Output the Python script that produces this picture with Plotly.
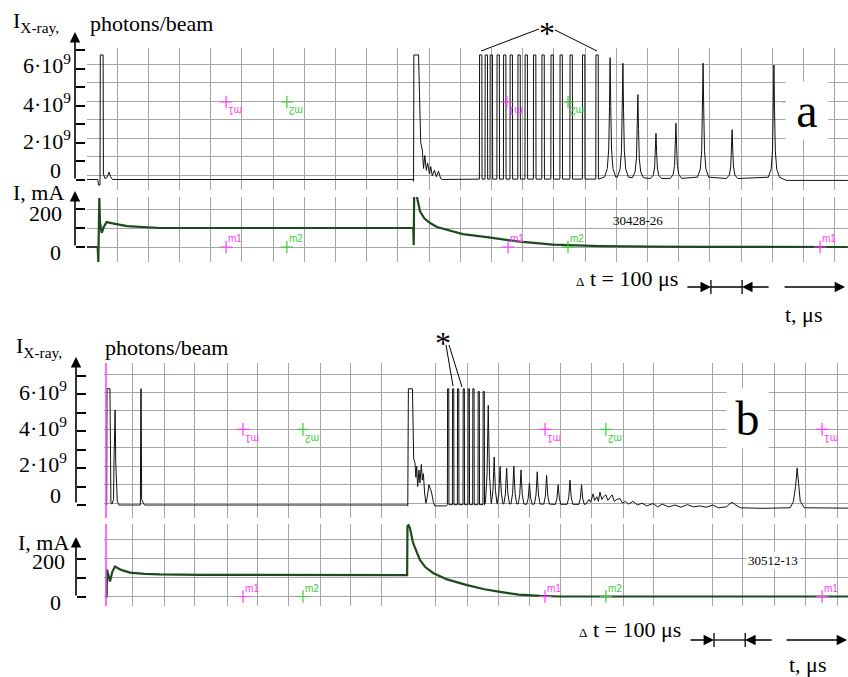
import plotly.graph_objects as go

W, H = 848, 677
def fx(x): return x / W
def fy(y): return 1 - y / H

SERIF = "Liberation Serif"
SANS = "Liberation Sans"
GRID = "#a6a6a6"
TRACE = "#111111"
CUR = "#1f4a1f"
MAG = "#ff3cff"
GRN = "#3ccc3c"

# ---------------- DATA ----------------
# time in microseconds, X-ray in 1e9 photons/beam, beam current in mA
# ---- panel (a), shot 30428-26
a_xray_start_t = [-42, -7, -5, 0, 1, 10, 11, 16, 22, 29, 34, 40]
a_xray_start_v = [0, 0, -0.3, -0.3, 6.75, 6.75, 0.3, 0.05, 0.1, 0.4, 0.15, 0]
a_xray_inj_t = [1004, 1005, 1006, 1021, 1024, 1028, 1033, 1037, 1041, 1046, 1050,
                1056, 1060, 1065, 1072, 1078, 1085, 1092, 1098]
a_xray_inj_v = [0, -0.1, 6.75, 6.75, 4.6, 2.0, 1.6, 0.6, 1.3, 0.5, 0.9,
                0.3, 0.7, 0.2, 0.5, 0.15, 0.45, 0.05, 0]
a_sat_start = [1216, 1234, 1250, 1272, 1293, 1314, 1339, 1362, 1389, 1416, 1445,
               1474, 1506, 1546, 1589]
a_sat_top = [6.75, 6.75, 6.75, 6.75, 6.75, 6.75, 6.75, 6.75, 6.75, 6.75, 6.75,
             6.75, 6.75, 6.75, 6.75]
a_peak_t = [1635, 1676, 1724, 1782, 1846, 1933, 2026, 2160]
a_peak_v = [6.6, 6.3, 4.6, 2.5, 3.05, 6.3, 2.7, 6.2]
a_xray_end_t = [2200, 2397]
a_xray_end_v = [-0.05, -0.05]

a_cur_t = [-42, -7.4, -5.4, -3.8, -2.2, 0, 5.4, 12, 21, 40, 87, 192, 1004, 1005.5,
           1007, 1013, 1026, 1040, 1058, 1080, 1112, 1163, 1240, 1292, 1346, 1452,
           1603, 1763, 1923, 2397]
a_cur_v = [0, 0, -80, 258, 258, 131, 74, 105, 131, 124, 110, 100, 100, 10,
           290, 285, 186, 150, 126, 105, 90, 68, 52, 40, 28, 12,
           5, 2, 0.5, 0]

a_cursor_t = [404, 599, 1304, 1500, 2208]
a_cursor_x = [4.2, 4.2, 4.2, 4.2, 4.2]
a_cursor_name = ["m1", "m2", "m1", "m2", "m1"]
a_cur_cursor_t = [404, 599, 1308, 1500, 2308]
a_cur_cursor_name = ["m1", "m2", "m1", "m2", "m1"]

# ---- panel (b), shot 30512-13
b_xray_start_t = [-3, -1, 0, 9.5, 11.5, 12.5, 16, 21, 22.5, 25, 26, 28, 31, 33, 38,
                  107, 108.5, 109.5, 111, 116, 120]
b_xray_start_v = [0, 0, 6.3, 6.3, 2.4, 0.1, 0.05, 0.3, 2.5, 5.15, 5.15, 2.3, 0.4, 0.2, 0,
                  0, 6.3, 6.3, 0.3, 0.15, 0]
b_xray_inj_t = [962, 964, 966, 979, 983, 987, 990, 992.6, 995.7, 1000, 1003, 1007.5,
                1010.7, 1014, 1018, 1022, 1026.7, 1032, 1036, 1040.6, 1046, 1051, 1088]
b_xray_inj_v = [0, -0.05, 6.3, 6.3, 2.5, 2.3, 1.5, 2.1, 1.0, 1.9, 1.2, 2.2,
                1.35, 1.7, 0.65, 0.1, 0.45, 1.1, 0.9, 0.65, 0.15, -0.05, -0.05]
b_sat_start = [1091, 1107, 1123, 1141, 1157, 1172, 1189, 1205]
b_sat_top = [6.3, 6.3, 6.3, 6.3, 6.3, 6.3, 6.15, 6.15]
b_peak_t = [1222, 1241, 1260, 1281, 1304, 1327, 1354, 1379, 1409, 1446, 1484, 1521]
b_peak_v = [5.4, 2.6, 2.1, 2.0, 2.1, 1.9, 1.2, 1.8, 1.6, 1.1, 1.35, 1.1]
b_xray_tail_t = [1535, 1545, 1550, 1558, 1563, 1570, 1575, 1580, 1586, 1592, 1599, 1605,
                 1612, 1619, 1626, 1634, 1644, 1652, 1662, 1672, 1686, 1700, 1715, 1730,
                 1750, 1765, 1780, 1800, 1820, 1840, 1860, 1880, 1900, 1920, 1942, 1960,
                 1985, 2003, 2015, 2030, 2100, 2190, 2200, 2207, 2212, 2217, 2222, 2235,
                 2375]
b_xray_tail_v = [0.05, 0.3, 0.15, 0.6, 0.25, 0.45, 0.2, 0.7, 0.3, 0.45, 0.55, 0.25,
                 0.4, 0.55, 0.2, 0.3, 0.35, 0.1, 0.2, 0.05, 0.2, 0.0, 0.1, -0.05,
                 0.08, -0.1, 0.05, -0.1, 0.0, -0.12, 0.02, -0.1, -0.05, -0.12, 0.0, -0.15,
                 -0.1, 0.15, 0.0, -0.15, -0.18, -0.15, 0.2, 1.0, 2.0, 0.9, 0.2, -0.15,
                 -0.17]

b_cur_t = [-3, -1, 0, 3, 9.6, 17, 25.6, 45, 74, 120, 170, 300, 962, 963, 966.5, 971,
           981, 1003, 1020, 1045, 1090, 1154, 1210, 1260, 1320, 1388, 1452, 2375]
b_cur_v = [0, 0, 142, 120, 79, 130, 158, 140, 126, 119, 116, 114, 113, 370, 376, 360,
           282, 192, 155, 124, 90, 60, 38, 24, 10, 3, 0, 0]

b_cursor_t = [436, 628, 1404, 1599, 2292]
b_cursor_x = [4.1, 4.1, 4.1, 4.1, 4.1]
b_cursor_name = ["m1", "m2", "m1", "m2", "m1"]

# grid positions (time, µs)
a_grid_t0 = 54.5
b_grid_t = [83, 183, 282, 385, 481, 583, 683, 779, 881, 1054, 1157, 1256, 1353, 1455,
            1554, 1654, 1753, 1942, 2038, 2141, 2240, 2340]

xray_ticks = [0, 1, 2, 3, 4, 5, 6, 7]
cur_ticks = [0, 100, 200]

# peak drawing profiles (style)
PROF_A_DT = [-18, -9, -4.5, -2, 0, 2, 4.5, 9, 18]
PROF_A_F = [0.02, 0.09, 0.25, 0.6, 1, 0.6, 0.25, 0.09, 0.02]
PROF_B_DT = [-9, -4, -1.5, 0, 1.5, 4, 9]
PROF_B_F = [0.03, 0.3, 0.7, 1, 0.7, 0.3, 0.03]


def sat_pulses(starts, tops, width):
    t, v = [], []
    for s, h in zip(starts, tops):
        t += [s, s + 0.6, s + width - 0.6, s + width]
        v += [0.02, h, h, 0.02]
    return t, v


def peaks(cs, hs, dts, fs):
    t, v = [], []
    for c, h in zip(cs, hs):
        for d, f in zip(dts, fs):
            t.append(c + d)
            v.append(h * f)
    return t, v


st, sv = sat_pulses(a_sat_start, a_sat_top, 8.5)
pt, pv = peaks(a_peak_t, a_peak_v, PROF_A_DT, PROF_A_F)
a_x_t = a_xray_start_t + a_xray_inj_t + st + pt + a_xray_end_t
a_x_v = a_xray_start_v + a_xray_inj_v + sv + pv + a_xray_end_v

st, sv = sat_pulses(b_sat_start, b_sat_top, 5)
pt, pv = peaks(b_peak_t, b_peak_v, PROF_B_DT, PROF_B_F)
b_x_t = b_xray_start_t + b_xray_inj_t + st + pt + b_xray_tail_t
b_x_v = b_xray_start_v + b_xray_inj_v + sv + pv + b_xray_tail_v

# ---------------- FIGURE ----------------
fig = go.Figure()

fig.add_trace(go.Scatter(x=a_x_t, y=a_x_v, xaxis="x", yaxis="y", mode="lines",
                         line=dict(color=TRACE, width=1), hoverinfo="skip"))
fig.add_trace(go.Scatter(x=a_cur_t, y=a_cur_v, xaxis="x2", yaxis="y2", mode="lines",
                         line=dict(color=CUR, width=2.2), hoverinfo="skip"))
fig.add_trace(go.Scatter(x=b_x_t, y=b_x_v, xaxis="x3", yaxis="y3", mode="lines",
                         line=dict(color=TRACE, width=1), hoverinfo="skip"))
fig.add_trace(go.Scatter(x=b_cur_t, y=b_cur_v, xaxis="x4", yaxis="y4", mode="lines",
                         line=dict(color=CUR, width=2.2), hoverinfo="skip"))


def cursors(ts, vs, names, xa, ya):
    for t, v, n in zip(ts, vs, names):
        col = MAG if n == "m1" else GRN
        fig.add_trace(go.Scatter(x=[t], y=[v], xaxis=xa, yaxis=ya, mode="markers",
                                 marker=dict(symbol="cross-thin", size=9,
                                             line=dict(color=col, width=1.2)),
                                 hoverinfo="skip"))


cursors(a_cursor_t, a_cursor_x, a_cursor_name, "x", "y")
cursors(a_cur_cursor_t, [0] * 5, a_cur_cursor_name, "x2", "y2")
cursors(b_cursor_t, b_cursor_x, b_cursor_name, "x3", "y3")
cursors(b_cursor_t, [0] * 5, b_cursor_name, "x4", "y4")

# axes geometry (pixel positions of the reference)
A_X0, B_X0 = 87, 104
A_XR = [(A_X0 - 100) / 0.312, (848 - 100) / 0.312]
B_XR = [(B_X0 - 107) / 0.312, (848 - 107) / 0.312]

ax_common = dict(showticklabels=False, ticks="", zeroline=False, showline=False,
                 gridcolor=GRID, gridwidth=1.2)

layout = dict(
    width=W, height=H, margin=dict(l=0, r=0, t=0, b=0),
    paper_bgcolor="white", plot_bgcolor="white", showlegend=False,
    xaxis=dict(domain=[fx(A_X0), 1], range=A_XR, anchor="y", tick0=a_grid_t0, dtick=100, **ax_common),
    xaxis2=dict(domain=[fx(A_X0), 1], range=A_XR, anchor="y2", tick0=a_grid_t0, dtick=100, **ax_common),
    xaxis3=dict(domain=[fx(B_X0), 1], range=B_XR, anchor="y3", tickmode="array", tickvals=b_grid_t, **ax_common),
    xaxis4=dict(domain=[fx(B_X0), 1], range=B_XR, anchor="y4", tickmode="array", tickvals=b_grid_t, **ax_common),
    yaxis=dict(domain=[fy(190), fy(48)], range=[(179.5 - 190) / 18.45, (179.5 - 48) / 18.45],
               anchor="x", tick0=0.24, dtick=1, **ax_common),
    yaxis2=dict(domain=[fy(262), fy(197)], range=[(247 - 262) / 0.19, (247 - 197) / 0.19],
                anchor="x2", tick0=0, dtick=100, **ax_common),
    yaxis3=dict(domain=[fy(518), fy(363)], range=[(505 - 518) / 18.45, (505 - 363) / 18.45],
                anchor="x3", tick0=0.1, dtick=1, **ax_common),
    yaxis4=dict(domain=[fy(606), fy(524)], range=[(596.5 - 606) / 0.19, (596.5 - 524) / 0.19],
                anchor="x4", tick0=0, dtick=100, **ax_common),
)

tick_ax = dict(anchor="free", side="left", showgrid=False, zeroline=False, showline=False,
               showticklabels=False, ticks="inside", ticklen=9, tickwidth=1.6,
               tickcolor="black", tickmode="array")
layout["yaxis5"] = dict(overlaying="y", position=fx(75), range=layout["yaxis"]["range"],
                        tickvals=xray_ticks, **tick_ax)
layout["yaxis6"] = dict(overlaying="y2", position=fx(75), range=layout["yaxis2"]["range"],
                        tickvals=cur_ticks, **tick_ax)
layout["yaxis7"] = dict(overlaying="y3", position=fx(76), range=layout["yaxis3"]["range"],
                        tickvals=xray_ticks, **tick_ax)
layout["yaxis8"] = dict(overlaying="y4", position=fx(76), range=layout["yaxis4"]["range"],
                        tickvals=cur_ticks, **tick_ax)
fig.update_layout(**layout)
# dummy traces so the tick axes render
for ya in ["y5", "y6", "y7", "y8"]:
    fig.add_trace(go.Scatter(x=[None], y=[None], yaxis=ya, xaxis="x" if ya in ("y5", "y6") else "x3",
                             hoverinfo="skip"))

ann = []
shapes = []


def text(x, y, s, size=22, anchor="left", color="black", font=SERIF, **kw):
    ann.append(dict(x=fx(x), y=fy(y), xref="paper", yref="paper", text=s, showarrow=False,
                    xanchor=anchor, yanchor="middle",
                    font=dict(family=font, size=size, color=color), **kw))


def arrow(x, y, ax, ay, xref="paper", yref="paper"):
    ann.append(dict(x=x, y=y, xref=xref, yref=yref, ax=ax, ay=ay, axref="pixel", ayref="pixel",
                    text="", showarrow=True, arrowhead=2, arrowsize=1.3, arrowwidth=1.6,
                    arrowcolor="black", standoff=0, startstandoff=0))


def line(x0, y0, x1, y1, xref="paper", width=1):
    shapes.append(dict(type="line", xref=xref, yref="paper", x0=x0, x1=x1, y0=y0, y1=y1,
                       line=dict(color="black", width=width)))


# cursor labels (drawn first so the panel-letter boxes cover them)
def cursor_labels(ts, vs, names, xa, ya, flipped):
    for t, v, n in zip(ts, vs, names):
        col = MAG if n == "m1" else GRN
        ann.append(dict(x=t, y=v, xref=xa, yref=ya, text=n, showarrow=False,
                        xshift=9, yshift=(-9 if flipped else 8),
                        textangle=(180 if flipped else 0),
                        font=dict(family=SANS, size=10, color=col)))


cursor_labels(a_cursor_t, a_cursor_x, a_cursor_name, "x", "y", True)
cursor_labels(a_cur_cursor_t, [0] * 5, a_cur_cursor_name, "x2", "y2", False)
cursor_labels(b_cursor_t, b_cursor_x, b_cursor_name, "x3", "y3", True)
cursor_labels(b_cursor_t, [0] * 5, b_cursor_name, "x4", "y4", False)

# vertical axis arrows
arrow(fx(75), fy(32), 0, 148)
arrow(fx(75), fy(191), 0, 56)
arrow(fx(76), fy(357), 0, 147)
arrow(fx(76), fy(537), 0, 60)

# axis titles
text(11, 22, "I<sub>X-ray,</sub>", size=22)
text(88, 23, "photons/beam", size=22)
text(11, 192, "I, mA", size=22)
text(14, 347, "I<sub>X-ray,</sub>", size=22)
text(103, 347, "photons/beam", size=22)
text(16, 542, "I, mA", size=22)

# y tick labels
for s, yc in [("6·10<sup>9</sup>", 64), ("4·10<sup>9</sup>", 103), ("2·10<sup>9</sup>", 140)]:
    text(73, yc, s, anchor="right")
text(63, 170, "0", anchor="right")
text(64, 213, "200", anchor="right")
text(63, 253, "0", anchor="right")
for s, yc in [("6·10<sup>9</sup>", 391), ("4·10<sup>9</sup>", 427), ("2·10<sup>9</sup>", 463)]:
    text(69, yc, s, anchor="right")
text(63, 495, "0", anchor="right")
text(67, 561, "200", anchor="right")
text(63, 602, "0", anchor="right")

# panel labels
text(807, 110, "a", size=48, anchor="center", bgcolor="white", width=40, height=55)
text(747.5, 418, "b", size=48, anchor="center", bgcolor="white", width=39, height=57)
text(638, 220, "30428-26", size=13, anchor="center")
text(773, 560, "30512-13", size=13, anchor="center", bgcolor="white")

# asterisks and leader lines
text(547, 33, "*", size=32, anchor="center")
line(fx(539), fy(29), fx(481), fy(51))
line(fx(555), fy(30), fx(597), fy(51))
text(443, 343, "*", size=32, anchor="center")
line(fx(446), fy(345), fx(453), fy(386))
line(fx(449), fy(345), fx(462), fy(387))

# magenta trigger line (panel b)
for xa, ya in [("x3", "y3"), ("x4", "y4")]:
    shapes.append(dict(type="line", xref=xa, yref=ya + " domain", x0=-3.2, x1=-3.2, y0=0, y1=1,
                       line=dict(color=MAG, width=1.5)))

# time scale bars
dt_scale = 100
for (ya, xa, t0, tend, txt_y, tt_y, tx, ttx) in [(287, "x", 1958, 2388, 278, 314, 680, 803),
                                                 (640, "x3", 1945.5, 2372, 629, 664, 683, 807)]:
    t1 = t0 + dt_scale
    arrow(t0, fy(ya), -25, 0, xref=xa)
    arrow(t1, fy(ya), 28, 0, xref=xa)
    arrow(tend, fy(ya), -62, 0, xref=xa)
    shapes.append(dict(type="line", xref=xa, yref="paper", x0=t0, x1=t1, y0=fy(ya), y1=fy(ya),
                       line=dict(color="black", width=1.3)))
    for tt in (t0, t1):
        shapes.append(dict(type="line", xref=xa, yref="paper", x0=tt, x1=tt, y0=fy(ya - 7),
                           y1=fy(ya + 7), line=dict(color="black", width=1.3)))
    text(tx, txt_y, "<span style='font-size:13px'>Δ</span> t = 100 μs", anchor="right")
    text(ttx, tt_y, "t, μs", anchor="center")

fig.update_layout(annotations=ann, shapes=shapes)
fig.write_html("out.html")
